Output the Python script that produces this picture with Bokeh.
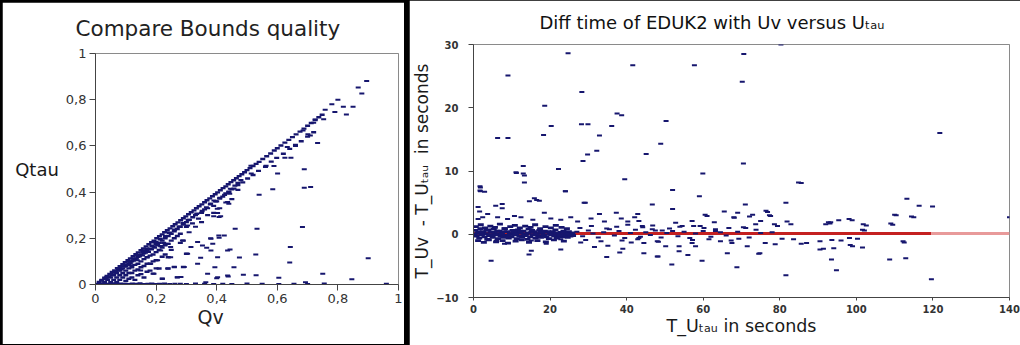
from bokeh.plotting import figure
from bokeh.layouts import row, column
from bokeh.models import Title, CustomJSTickFormatter
from bokeh.embed import file_html
from bokeh.resources import INLINE

NAVY = "#16166e"
FONT = "DejaVu Sans"

# ---------------- Left panel data: Qv vs Qtau ----------------
diag_x = [0.012,0.021,0.03,0.038,0.047,0.055,0.063,0.072,0.081,0.09,0.098,0.107,0.115,0.124,0.133,0.141,0.15,0.158,
          0.167,0.176,0.185,0.193,0.202,0.211,0.22,0.228,0.237,0.246,0.255,0.263,0.272,0.281,0.29,0.298,0.307,0.316,
          0.325,0.333,0.342,0.351,0.36,0.368,0.377,0.386,0.395,0.403,0.412,0.421,0.43,0.438,0.447,0.456,0.465,0.474,
          0.483,0.492,0.5,0.51,0.52,0.53,0.54,0.552,0.565,0.578,0.59,0.6,0.612,0.625,0.638,0.65,0.662,0.675,0.688,
          0.70,0.712,0.725,0.737,0.748]
diag_y = [0.011,0.02,0.029,0.037,0.046,0.054,0.061,0.071,0.079,0.088,0.097,0.105,0.113,0.122,0.131,0.139,0.148,0.156,
          0.165,0.174,0.183,0.19,0.2,0.209,0.217,0.226,0.235,0.243,0.252,0.261,0.269,0.278,0.287,0.295,0.304,0.313,
          0.321,0.33,0.339,0.347,0.356,0.365,0.373,0.382,0.391,0.399,0.408,0.417,0.425,0.434,0.443,0.451,0.46,0.469,
          0.477,0.486,0.495,0.504,0.513,0.522,0.531,0.543,0.555,0.567,0.58,0.59,0.602,0.614,0.626,0.638,0.65,0.662,
          0.675,0.687,0.699,0.712,0.724,0.735]

band_x = [0.02,0.036,0.05,0.066,0.079,0.095,0.11,0.124,0.139,0.156,0.17,0.186,0.2,0.214,0.231,0.244,0.261,0.276,
          0.289,0.306,0.321,0.334,0.352,0.366,0.379,0.396,0.41,0.426,0.44,0.457,0.47,0.486,0.502,0.52,0.538,0.561,
          0.58,0.598,0.62,0.641,0.66,0.679,0.70,0.72]
band_y = [0.017,0.031,0.045,0.058,0.071,0.086,0.1,0.113,0.127,0.141,0.155,0.168,0.184,0.196,0.209,0.224,0.237,0.25,
          0.265,0.279,0.291,0.306,0.318,0.334,0.347,0.36,0.375,0.388,0.402,0.415,0.43,0.442,0.459,0.474,0.492,0.51,
          0.532,0.548,0.566,0.587,0.604,0.62,0.64,0.659]

fan_x = [0.03,0.04,0.05,0.05,0.06,0.06,0.07,0.07,0.07,0.08,0.08,0.08,0.09,0.09,0.09,0.1,0.1,0.1,0.1,0.11,0.11,0.11,
         0.11,0.12,0.12,0.12,0.12,0.13,0.13,0.13,0.13,0.14,0.14,0.14,0.14,0.15,0.15,0.15,0.15,0.16,0.16,0.16,0.16,
         0.17,0.17,0.17,0.17,0.18,0.18,0.18,0.18,0.19,0.19,0.19,0.19,0.2,0.2,0.2,0.2,0.21,0.21,0.21,0.22,0.22,0.22,
         0.22,0.23,0.23,0.23,0.24,0.24,0.24,0.24,0.25,0.25,0.25,0.26,0.26,0.26,0.27,0.27,0.27,0.28,0.28,0.28,0.29,
         0.29,0.29,0.3,0.3,0.3,0.035,0.045,0.055,0.065,0.075,0.085,0.095,0.105,0.115,0.125,0.135,0.145,0.155,
         0.165,0.175,0.185,0.195,0.205,0.215,0.225]
fan_y = [0.01,0.02,0.03,0.01,0.04,0.02,0.05,0.03,0.01,0.06,0.04,0.02,0.07,0.05,0.03,0.08,0.06,0.04,0.015,0.09,0.07,
         0.05,0.025,0.1,0.075,0.05,0.03,0.11,0.085,0.06,0.02,0.12,0.09,0.065,0.04,0.13,0.1,0.075,0.045,0.135,0.11,
         0.08,0.03,0.145,0.118,0.09,0.055,0.155,0.125,0.09,0.06,0.165,0.13,0.1,0.047,0.175,0.14,0.105,0.07,0.18,
         0.15,0.069,0.19,0.16,0.12,0.025,0.2,0.17,0.13,0.21,0.176,0.118,0.069,0.22,0.19,0.15,0.23,0.2,0.076,0.24,
         0.21,0.031,0.25,0.22,0.18,0.26,0.19,0.076,0.27,0.25,0.133,0.025,0.035,0.042,0.052,0.062,0.066,0.078,
         0.086,0.094,0.104,0.112,0.122,0.126,0.138,0.142,0.152,0.16,0.17,0.166,0.18]

mid_x = [0.31,0.32,0.33,0.34,0.35,0.36,0.37,0.38,0.39,0.4,0.41,0.42,0.43,0.44,0.45,0.46,0.47,0.48,0.33,0.35,0.37,
         0.39,0.41,0.43,0.45,0.47]
mid_y = [0.28,0.265,0.3,0.285,0.31,0.325,0.33,0.35,0.34,0.36,0.372,0.38,0.395,0.4,0.412,0.428,0.44,0.452,0.25,0.27,
         0.3,0.31,0.33,0.355,0.37,0.41]

sparse_x = [0.895,0.867,0.879,0.80,0.78,0.818,0.85,0.79,0.828,0.758,0.725,0.753,0.72,0.709,0.733,0.66,0.633,0.645,
            0.625,0.589,0.563,0.601,0.513,0.514,0.689,0.54,0.585,0.689,0.683,0.533,0.461,0.643,0.444,0.529,0.475,
            0.641,0.90,0.457,0.394,0.438,0.488,0.53,0.605,0.75,0.846,0.693,0.4,0.304,0.309,0.403,0.408,0.436,0.425,
            0.408,0.381,0.353,0.381,0.403,0.436,0.315,0.304,0.337,0.293,0.282,0.403,0.436,0.37,0.364,0.248,0.26,
            0.238,0.205,0.215,0.248,0.287,0.337,0.238,0.171,0.182,0.149,0.16,0.138,0.116,0.193,0.221,0.27,0.38,
            0.407,0.387,0.367,0.347,0.391,0.413,0.39,0.402,0.44,0.443,0.445,0.71,0.701,0.685]
sparse_y = [0.881,0.853,0.827,0.80,0.78,0.769,0.769,0.747,0.736,0.757,0.714,0.715,0.70,0.645,0.613,0.60,0.595,0.549,
            0.549,0.513,0.514,0.48,0.514,0.48,0.499,0.389,0.412,0.419,0.249,0.241,0.241,0.162,0.152,0.130,0.117,
            0.095,0.114,0.075,0.075,0.035,0.042,0.040,0.029,0.046,0.023,0.01,0.027,0.255,0.226,0.309,0.292,0.357,
            0.212,0.202,0.198,0.169,0.147,0.118,0.147,0.162,0.133,0.09,0.076,0.033,0.031,0.039,0.047,0.01,0.118,
            0.076,0.069,0.105,0.147,0.162,0.19,0.184,0.176,0.118,0.09,0.061,0.147,0.105,0.083,0.047,0.025,0.031,
            0.20,0.212,0.176,0.159,0.116,0.364,0.295,0.295,0.328,0.35,0.393,0.415,0.422,0.65,0.667]

bot_x = [0.005,0.018,0.03,0.043,0.056,0.069,0.082,0.095,0.108,0.121,0.134,0.147,0.16,0.173,0.186,0.199,0.212,0.228,
         0.245,0.262,0.28,0.3,0.33,0.36,0.39,0.42,0.45,0.5,0.55,0.605,0.655,0.7,0.755,0.96]
bot_y = [0.003,0.004,0.002,0.003,0.005,0.002,0.004,0.003,0.002,0.004,0.003,0.005,0.002,0.003,0.004,0.002,0.003,0.004,
         0.002,0.003,0.003,0.002,0.004,0.003,0.002,0.003,0.002,0.004,0.003,0.002,0.003,0.002,0.004,0.003]

q_ticks = [0, 0.2, 0.4, 0.6, 0.8, 1]

# ---------------- Right panel data: T_Utau vs T_Uv - T_Utau ----------------
core1_x = [0.4,1.1,1.8,2.5,3.2,3.9,4.6,5.3,6.0,6.7,7.4,8.1,8.8,9.5,10.2,10.9,11.6,12.3,13.0,13.7,14.4,15.1,15.8,16.5,
           17.2,17.9,18.6,19.3,20.0,20.7,21.4,22.1,22.8,23.5,24.2,24.9,25.6]
core1_y = [0.6,0.2,0.9,0.4,0.1,0.7,0.3,0.8,0.0,0.5,0.2,0.9,0.4,0.1,0.6,0.3,0.7,0.2,0.5,0.0,0.8,0.3,0.4,0.1,0.6,0.2,
           0.5,0.3,0.0,0.4,0.7,0.1,0.3,0.5,0.2,0.4,0.1]
core2_x = [0.8,1.5,2.2,2.9,3.6,4.3,5.0,5.7,6.4,7.1,7.8,8.5,9.2,9.9,10.6,11.3,12.0,12.7,13.4,14.1,14.8,15.5,16.2,16.9,
           17.6,18.3,19.0,19.7,20.4,21.1,21.8,22.5,23.2,23.9,24.6,25.3,26.0]
core2_y = [-0.3,-0.6,-0.1,-0.4,-0.8,-0.2,-0.5,-0.1,-0.7,-0.3,-0.5,-0.2,-0.6,-0.4,-0.1,-0.7,-0.3,-0.5,-0.2,-0.8,-0.4,
           -0.1,-0.6,-0.3,-0.5,-0.2,-0.4,-0.7,-0.1,-0.3,-0.6,-0.2,-0.4,-0.1,-0.5,-0.3,-0.2]
core3_x = [0.6,1.9,3.0,4.4,5.6,6.9,8.2,9.6,10.8,12.1,13.5,14.9,16.1,17.4,18.8,20.2,21.5,23.0,24.4]
core3_y = [1.2,1.5,1.0,1.3,1.1,1.6,0.9,1.2,1.4,1.0,1.3,1.1,1.5,0.9,1.2,1.0,1.4,1.1,0.9]
core4_x = [1.2,2.7,4.0,5.9,7.6,9.0,11.0,12.6,14.5,16.7,18.9,21.0,23.6]
core4_y = [-1.0,-1.3,-0.9,-1.2,-1.0,-1.4,-1.1,-0.9,-1.3,-1.0,-1.2,-0.9,-1.1]
core5_x = [0.3,1.3,2.0,3.4,4.1,5.5,6.2,7.3,8.0,9.1,10.4,11.1,12.2,13.3,14.2,15.3,16.4,17.5,18.4,19.5,20.6,21.7,22.6,
           23.7,24.8,25.8]
core5_y = [0.0,0.4,0.2,0.6,-0.1,0.3,0.5,0.0,0.4,-0.2,0.3,0.1,0.5,-0.1,0.2,0.6,0.0,0.3,-0.2,0.4,0.1,0.2,-0.1,0.3,0.0,
           0.2]

mid1_x = [27,28.5,30,31.2,32.6,34,35.5,36.8,38,39.5,41,42.3,43.6,45,46.2,47.5,49,50.5,52,53.4,55,56.5,58,60,62,
          64.5,66,69,72,75,78]
mid1_y = [0.4,-0.3,0.6,0.1,-0.5,0.3,0.8,-0.2,0.5,-0.6,0.2,0.7,-0.4,0.3,-0.1,0.6,-0.5,0.2,0.5,-0.3,0.4,-0.6,0.1,0.5,
          -0.4,0.3,-0.2,0.4,-0.5,0.2,0.3]
mid2_x = [27.8,29.3,30.8,33.3,34.8,37.4,38.8,40.3,42.9,44.2,46.8,48.3,51.2,53.9,57.2,59.2,63.2,67.3,70.5,73.8]
mid2_y = [1.0,-0.9,1.3,-1.1,0.9,1.2,-1.0,1.5,-0.8,1.1,1.4,-1.2,0.9,1.2,-0.9,1.3,0.8,-1.0,1.1,0.7]

near_x = [1.8,1.8,2.9,7.5,5.8,1.6,1.2,7.5,15.9,17.2,14.6,24.0,29.2,1.2,2.4,3.7,6.3,8.9,10.7,12.4,15.5,18.5,20.2,
          22.8,25.4,27.2,30.7,32.9,34.2,37.3,38.6,40.3,42.1,42.9,6.0,8.1,15.1,19.0,22.8,28.0,31.6,35.1,39.0,41.2,
          15.1,22.8,61.0,68.1,69.0,72.9,76.8,77.6,75.0,82.9,79.4,92.0,93.3,43.2,44.1,46.7,49.3,52.8,54.5,57.1,
          57.5,60.2,63.2,66.7,71.1,73.7,43.2,44.5,48.0,50.2,53.7,57.1,58.0,61.5,64.5,67.5,69.3,71.5,74.5,76.2,
          78.8,80.6,83.6,87.0,90.5,90.5,48.0,53.7,66.3,110.4,115.0,109.5,102.6,98.9,93.1,102.1,96.0,98.2,100.3,
          99.0,112.5,94.1,95.4,98.1,92.7,101.8,101.6,109.0,110.0,114.4,81.9,77.3,76.4,78.6,72.1,68.0,62.9,60.5,
          65.5,85.6,93.6,91.4,98.4,112.2,101.6]
near_y = [7.4,6.8,6.7,4.8,4.5,3.6,4.3,4.1,5.7,5.3,5.2,6.8,5.0,2.4,2.7,3.2,2.7,2.4,2.9,2.7,2.3,3.4,2.5,2.3,2.7,2.0,
          2.5,3.2,2.0,3.4,2.5,2.0,2.7,3.2,-1.0,-1.5,-1.0,-1.5,-0.8,-1.3,-2.0,-1.8,-2.3,-1.3,-2.6,-2.4,2.9,2.6,3.4,
          3.1,3.5,2.9,2.1,1.6,1.3,1.6,1.9,2.1,1.3,0.8,0.6,1.8,1.3,2.1,1.3,1.0,0.5,1.0,1.0,1.6,-0.6,-1.4,-1.1,-1.9,
          -1.9,-1.4,-1.9,-0.8,-1.1,-1.4,-0.7,-1.9,-3.1,-1.4,-1.6,-0.7,-0.8,-1.4,-1.1,-2.4,-3.5,-2.7,-3.0,3.0,2.7,
          1.5,1.4,2.2,1.7,0.6,-1.0,-0.6,-0.7,-1.9,-1.3,-2.2,2.2,2.4,1.9,1.6,0.7,1.7,3.1,2.8,2.0,3.0,3.7,1.6,2.8,2.7,
          1.9,3.1,3.6,-1.5,-0.9,-2.3,-1.7,-1.1,-2.1]

out_x = [24.7,70.6,80.3,41.6,57.7,9.0,70.2,28.3,18.6,37.5,38.7,50.3,20.3,28.2,29.9,36.1,18.3,32.9,6.3,9.0,121.8,
         48.9,32.2,29.8,45.1,28.6,70.5,13.0,13.0,11.1,22.2,59.9,39.5,84.9,13.3,1.7,1.7,24.0,52.0,28.9,59.0,81.6,
         16.5,71.0,113.2,46.7,116.4,140.0,4.6,14.5,51.8,59.7,68.8,81.6,94.8,93.5,119.6,112.9,108.7,74.8,56.0,48.2,
         44.5,34.8,38.2,52.0,119.9,11.2,13.3,85.6]
out_y = [28.6,28.5,30.0,26.7,26.7,25.1,24.1,22.5,20.3,19.1,18.8,17.9,17.1,17.4,17.4,17.1,15.7,15.6,15.2,15.2,16.0,
         14.3,13.2,12.6,12.7,11.6,11.2,10.8,9.6,9.8,10.3,9.6,8.7,8.2,8.2,7.6,6.9,6.8,7.0,5.0,6.0,5.0,5.4,4.7,5.6,
         4.7,4.5,2.7,-4.2,-3.2,-4.8,-4.2,-5.2,-6.5,-5.7,-4.0,-7.1,-3.8,-4.0,-3.0,-3.3,-3.5,-3.0,-3.6,-2.9,4.0,4.4,
         9.7,9.3,8.1]

red_x = [0, 119.5]
red_y = [0.1, 0.1]
pink_x = [119.5, 140]
pink_y = [0.1, 0.1]
t_xticks = [0, 20, 40, 60, 80, 100, 120, 140]
t_yticks = [-10, 0, 10, 20, 30]

SUB_TAU = "\u209c\u2090\u1d64"  # subscript "tau"
NBSP = "\u00a0"


def style_axes(p, size, color, weight="normal"):
    for ax in (p.xaxis[0], p.yaxis[0]):
        ax.major_label_text_font = FONT
        ax.major_label_text_font_size = size
        ax.major_label_text_color = color
        ax.major_label_text_font_style = weight
        ax.axis_line_color = "#444444"
        ax.major_tick_line_color = "#444444"
        ax.minor_tick_line_color = None
        ax.major_tick_in = 0
        ax.major_tick_out = 5
        ax.axis_label_text_font = FONT
        ax.axis_label_text_font_style = "normal"
        ax.axis_label_text_color = "#1a1a1a"
    p.grid.visible = False
    p.outline_line_color = "#8a8a8a"
    p.background_fill_color = "white"
    p.border_fill_color = "white"


# ---------------- left figure ----------------
p1 = figure(width=402, height=342, x_range=(0, 1), y_range=(0, 1), output_backend="svg",
            toolbar_location=None, min_border_left=93, min_border_right=6, min_border_top=51,
            min_border_bottom=60, margin=(2, 0, 1, 2))
style_axes(p1, "13px", "#333333")
p1.xaxis.ticker = q_ticks
p1.yaxis.ticker = q_ticks
fmt = CustomJSTickFormatter(code="return (Math.round(tick*10)/10).toString().replace('.', ',');")
p1.xaxis.formatter = fmt
p1.yaxis.formatter = fmt
p1.xaxis.major_tick_out = 6
p1.yaxis.major_tick_out = 6
p1.xaxis.major_label_standoff = 3
p1.yaxis.major_label_standoff = 3
p1.yaxis.axis_label = "Qtau"
p1.yaxis.axis_label_orientation = "horizontal"
p1.yaxis.axis_label_text_font_size = "18px"
p1.yaxis.axis_label_standoff = 4

for xs, ys, lw in ((bot_x, bot_y, 2.2), (fan_x, fan_y, 2.4), (mid_x, mid_y, 2.2), (band_x, band_y, 2.4),
                   (diag_x, diag_y, 2.4), (sparse_x, sparse_y, 2)):
    p1.scatter(xs, ys, marker="dash", size=5, line_color=NAVY, line_width=lw)

p1.add_layout(Title(text="Compare Bounds quality", align="left", offset=-20, standoff=21,
                    vertical_align="top", text_font=FONT, text_font_size="21.5px",
                    text_font_style="normal", text_color="#222222"), "above")
p1.add_layout(Title(text="Qv", align="left", offset=102, standoff=0, vertical_align="top",
                    text_font=FONT, text_font_size="19px", text_font_style="normal",
                    text_color="#222222"), "below")

# ---------------- right figure ----------------
p2 = figure(width=611, height=345, x_range=(0, 140), y_range=(-10, 30), output_backend="svg",
            toolbar_location=None, min_border_left=60, min_border_right=11, min_border_top=44,
            min_border_bottom=48)
style_axes(p2, "10px", "#333333", "bold")
p2.xaxis.ticker = t_xticks
p2.yaxis.ticker = t_yticks
p2.xaxis.major_tick_out = 3
p2.xaxis.major_label_standoff = 4
p2.yaxis.major_label_standoff = 10
p2.yaxis.axis_label = "T_Uv" + NBSP + " - T_U" + SUB_TAU + NBSP + " in seconds"
p2.yaxis.axis_label_text_font_size = "17px"
p2.yaxis.axis_label_standoff = 1
p2.xaxis.axis_label = "T_U" + SUB_TAU + " in seconds"
p2.xaxis.axis_label_text_font_size = "17.5px"
p2.xaxis.axis_label_standoff = 0

p2.line(red_x, red_y, line_color="#c42020", line_width=3)
p2.line(pink_x, pink_y, line_color="#e89a9a", line_width=3)
for xs, ys in ((core3_x, core3_y), (core4_x, core4_y), (core1_x, core1_y), (core2_x, core2_y),
               (core5_x, core5_y)):
    p2.scatter(xs, ys, marker="dash", size=6, line_color=NAVY, line_width=2.8)
for xs, ys in ((mid1_x, mid1_y), (mid2_x, mid2_y), (near_x, near_y), (out_x, out_y)):
    p2.scatter(xs, ys, marker="dash", size=5, line_color=NAVY, line_width=2)

p2.add_layout(Title(text="Diff time of EDUK2 with Uv versus U" + SUB_TAU, align="left", offset=66,
                    standoff=20, vertical_align="top", text_font=FONT, text_font_size="18px",
                    text_font_style="normal", text_color="#111111"), "above")

layout = row(column(p1), column(p2), spacing=5, styles={"background-color": "black"})
open("out.html", "w").write(file_html(layout, INLINE))
